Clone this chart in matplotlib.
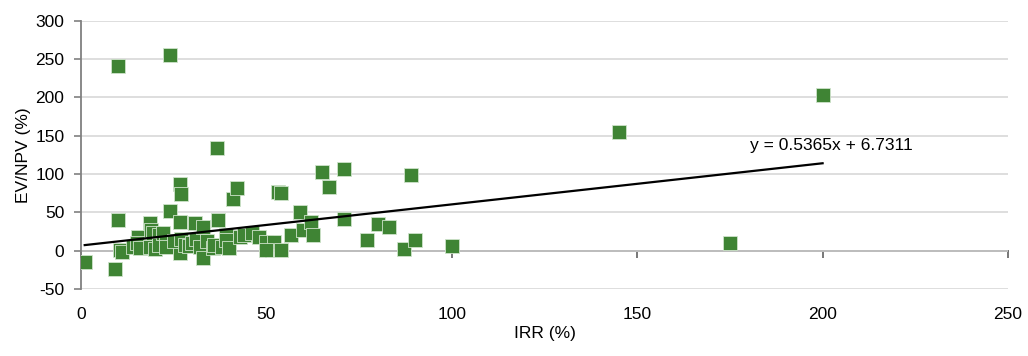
import matplotlib.pyplot as plt
import numpy as np

# IRR (%) vs EV/NPV (%)
irr = [1, 9.2, 10, 10, 10.5, 11, 14, 15.4, 15, 16,
       18.6, 19, 18.6, 19.5, 20, 21, 21, 22, 23, 23,
       24, 24, 26.7, 27, 26.7, 26.7, 25, 27, 28, 29,
       30.7, 30, 31, 32, 33, 33, 34, 36.6, 37, 35.6,
       36, 38, 39, 39, 40, 41, 42, 43, 44, 46,
       48, 50, 52, 50, 54, 53, 54, 56.7, 59, 60,
       62, 62.7, 65, 67, 71, 71, 77, 80, 83, 87,
       89, 90, 100, 145, 175, 200]
ev_npv = [-15, -24, 40, 241, 1, -2, 5, 18, 10, 3,
          36, 27, 5, 23, 2, 20, 7, 23, 10, 5,
          255, 52, 87, 74, 37, -3, 12, 15, 8, 6,
          36, 10, 15, 5, 31, -9, 12, 134, 40, 3,
          8, 5, 20, 14, 3, 68, 82, 18, 20, 23,
          18, 11, 11, 1, 1, 76, 75, 20, 50, 27,
          37, 20, 103, 83, 106, 41, 14, 35, 31, 2,
          99, 14, 6, 155, 10, 203]

slope, intercept = 0.5365, 6.7311

plt.rcParams['font.family'] = ['Liberation Sans', 'DejaVu Sans']
plt.rcParams['axes.unicode_minus'] = False
fs = 12.5

fig = plt.figure(figsize=(10.28, 3.56), dpi=100)
ax = fig.add_axes([81 / 1028, 1 - 289 / 356, 927 / 1028, (289 - 20.7) / 356])

ax.set_xlim(0, 250)
ax.set_ylim(-50, 300)
ax.set_yticks(np.arange(-50, 301, 50))
ax.set_xticks(np.arange(0, 251, 50))
ax.grid(axis='y', color='#d4d4d4', linewidth=1.1)
ax.set_axisbelow(True)

for s in ['top', 'right', 'bottom']:
    ax.spines[s].set_visible(False)
ax.spines['left'].set_color('#808080')
ax.spines['left'].set_linewidth(1.3)

ax.tick_params(axis='y', direction='out', length=5, width=1.2, color='#808080',
               pad=7, labelsize=fs, labelcolor='black')
ax.tick_params(axis='x', length=0, pad=13, labelsize=fs)

# x axis line crosses at y = 0, ticks hang below it
zero = (0 - (-50)) / (300 - (-50))
sec = ax.secondary_xaxis(zero)
sec.set_xticks(np.arange(0, 251, 50))
sec.tick_params(axis='x', direction='out', length=5, width=1.2, color='#606060',
                labelbottom=False)
sec.spines['bottom'].set_color('#707070')
sec.spines['bottom'].set_linewidth(1.4)

ax.scatter(irr, ev_npv, marker='s', s=95, color='#3f8434',
           edgecolors='#cfe3cb', linewidths=0.6, zorder=3)

xs = np.array([min(irr), max(irr)])
ax.plot(xs, slope * xs + intercept, color='black', linewidth=1.6, zorder=4)
ax.text(180.3, 137.8, 'y = 0.5365x + 6.7311', fontsize=fs, va='center', ha='left')

ax.set_xlabel('IRR (%)', fontsize=fs, labelpad=3)
ax.set_ylabel('EV/NPV (%)', fontsize=fs, labelpad=3)

fig.savefig('out.png', dpi=100)
